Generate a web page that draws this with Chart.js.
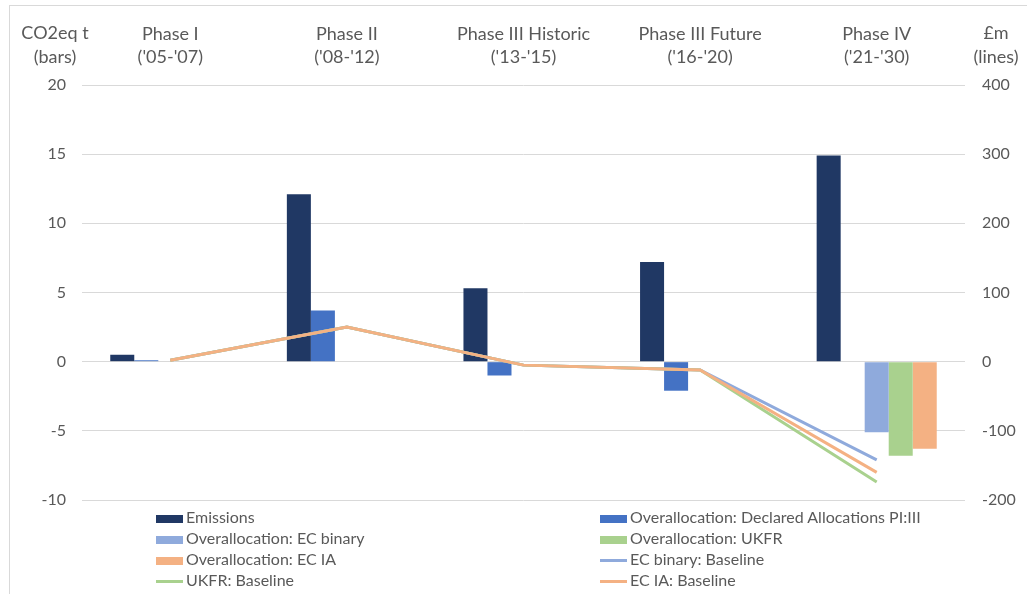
<!DOCTYPE html>
<html>
<head>
<meta charset="utf-8">
<script src="https://cdn.jsdelivr.net/npm/chart.js@4/dist/chart.umd.min.js"></script>
<style>
  body { margin: 0; background: #fff; font-family: Lato, sans-serif; }
  #wrap { position: relative; width: 1027px; height: 594px; overflow: hidden; }
  #frame { position: absolute; left: 9px; top: 5px; width: 1100px; height: 700px; border-left: 1px solid #d9d9d9; border-top: 1px solid #d9d9d9; }
  #legend { position: absolute; left: 0; top: 0; }
  .item { position: absolute; font-size: 16px; color: #595959; white-space: nowrap; height: 20px; line-height: 20px; }
  .sw { display: inline-block; width: 27px; vertical-align: middle; margin-right: 3px; }
</style>
</head>
<body>
<div id="wrap">
  <div id="frame"></div>
  <canvas id="chart" width="1027" height="594"></canvas>
  <div id="legend"></div>
</div>
<script>
const phases = [["Phase I", "('05-'07)"], ["Phase II", "('08-'12)"], ["Phase III Historic", "('13-'15)"], ["Phase III Future", "('16-'20)"], ["Phase IV", "('21-'30)"]];
const emissions = [0.5, 12.1, 5.3, 7.2, 14.9];
const declared = [0.1, 3.7, -1.0, -2.1, null];
const ecBinary = [null, null, null, null, -5.1];
const ukfr = [null, null, null, null, -6.8];
const ecIa = [null, null, null, null, -6.3];
const ecBinaryBase = [2, 50, -5, -12, -142];
const ukfrBase = [2, 50, -5, -12, -174];
const ecIaBase = [2, 50, -5, -12, -160];
const leftTicks = [-10, -5, 0, 5, 10, 15, 20];
const rightTicks = [-200, -100, 0, 100, 200, 300, 400];

const grey = '#595959';
const numFont = { family: 'Lato, sans-serif', size: 16 };
const catFont = { family: 'Lato, sans-serif', size: 18, lineHeight: 1.3 };

function bar(label, data, color) {
  return { type: 'bar', label: label, data: data, backgroundColor: color, yAxisID: 'y', order: 10,
    categoryPercentage: 0.68, barPercentage: 1 };
}
function line(label, data, color, order) {
  return { type: 'line', label: label, data: data, borderColor: color, backgroundColor: color, borderWidth: 3,
    pointRadius: 0, tension: 0, yAxisID: 'y2', order: order };
}

const axisTitles = {
  id: 'axisTitles',
  afterDraw(chart) {
    const c = chart.ctx;
    c.save();
    c.fillStyle = grey;
    c.font = '18px Lato, sans-serif';
    c.textAlign = 'center';
    c.textBaseline = 'middle';
    c.fillText('CO2eq t', 55, 33);
    c.fillText('(bars)', 55, 57);
    c.fillText('£m', 996, 33);
    c.fillText('(lines)', 996, 57);
    c.restore();
  }
};

const chart = new Chart(document.getElementById('chart'), {
  data: {
    labels: phases,
    datasets: [
      bar('Emissions', emissions, '#203864'),
      bar('Overallocation: Declared Allocations PI:III', declared, '#4472C4'),
      bar('Overallocation: EC binary', ecBinary, '#8FAADC'),
      bar('Overallocation: UKFR', ukfr, '#A9D18E'),
      bar('Overallocation: EC IA', ecIa, '#F4B183'),
      line('EC binary: Baseline', ecBinaryBase, '#8FAADC', 3),
      line('UKFR: Baseline', ukfrBase, '#A9D18E', 2),
      line('EC IA: Baseline', ecIaBase, '#F4B183', 1)
    ]
  },
  options: {
    responsive: false,
    animation: false,
    layout: { padding: { left: 0, right: 0, top: 0, bottom: 94 } },
    plugins: { legend: { display: false }, tooltip: { enabled: false } },
    scales: {
      x: {
        position: 'top',
        grid: { display: false },
        border: { display: false },
        ticks: { color: grey, font: catFont, padding: 8, maxRotation: 0 },
        afterFit(s) { s.height = 85; }
      },
      y: {
        position: 'left',
        min: -10, max: 20,
        afterBuildTicks(s) { s.ticks = leftTicks.map(v => ({ value: v })); },
        grid: { color: '#d9d9d9', lineWidth: 1, drawTicks: false },
        border: { display: false },
        ticks: { color: grey, font: numFont, padding: 16 },
        afterFit(s) { s.width = 82; }
      },
      y2: {
        position: 'right',
        min: -200, max: 400,
        afterBuildTicks(s) { s.ticks = rightTicks.map(v => ({ value: v })); },
        grid: { display: false, drawTicks: false },
        border: { display: false },
        ticks: { color: grey, font: numFont, padding: 17 },
        afterFit(s) { s.width = 62; }
      }
    }
  },
  plugins: [axisTitles]
});

// two-column legend like the original
const legend = document.getElementById('legend');
chart.data.datasets.forEach((ds, i) => {
  const col = i % 2, row = Math.floor(i / 2);
  const el = document.createElement('div');
  el.className = 'item';
  el.style.left = (col ? 600 : 156) + 'px';
  el.style.top = (507 + row * 21) + 'px';
  const sw = document.createElement('span');
  sw.className = 'sw';
  if (ds.type === 'bar') { sw.style.height = '8px'; sw.style.background = ds.backgroundColor; }
  else { sw.style.height = '3px'; sw.style.background = ds.borderColor; }
  el.appendChild(sw);
  el.appendChild(document.createTextNode(ds.label));
  legend.appendChild(el);
});
</script>
</body>
</html>
